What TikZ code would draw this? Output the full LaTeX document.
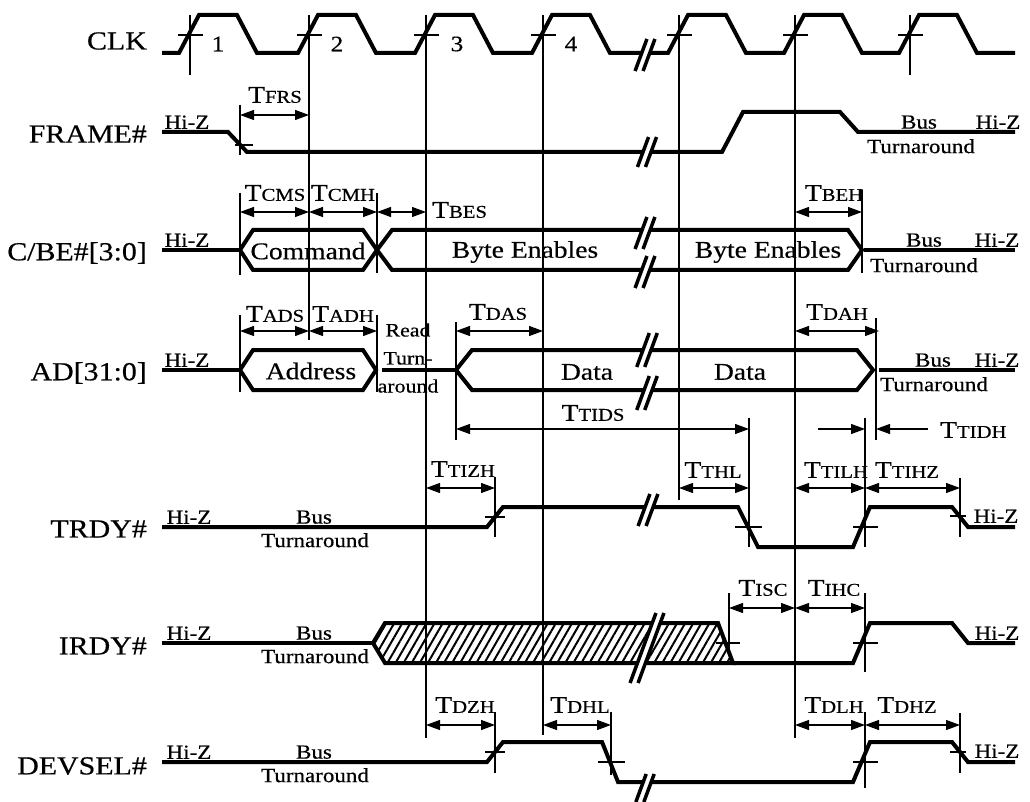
\documentclass[tikz,border=0pt]{standalone}
\usepackage{fontspec}
\setmainfont[FakeStretch=1.15,FakeBold=0.5]{Liberation Serif}
\usetikzlibrary{arrows.meta,patterns.meta}
\newcommand{\namefont}{\fontsize{26}{28}\selectfont}
\newcommand{\valfont}{\fontsize{24}{26}\selectfont}
\newcommand{\notefont}{\fontsize{20}{22}\selectfont}
\newcommand{\tm}[1]{{\fontsize{24}{26}\selectfont T}{\fontsize{18}{20}\selectfont #1}}
\newcommand{\brk}[3]{%
  \fill[white] ({#1-4-0.37*#3},{#2+#3}) -- ({#1-4+0.37*#3},{#2-#3}) -- ({#1+4+0.37*#3},{#2-#3}) -- ({#1+4-0.37*#3},{#2+#3}) -- cycle;
  \draw[brkln] ({#1-4-0.37*#3},{#2+#3}) -- ({#1-4+0.37*#3},{#2-#3});
  \draw[brkln] ({#1+4-0.37*#3},{#2+#3}) -- ({#1+4+0.37*#3},{#2-#3});}

\begin{document}
\begin{tikzpicture}[x=1pt,y=-1pt,
  sig/.style={line width=4pt,line join=miter},
  guide/.style={line width=1.1pt},
  dim/.style={line width=1.1pt,{Triangle[length=14pt,width=10pt]}-{Triangle[length=14pt,width=10pt]}},
  dimr/.style={line width=1.1pt,-{Triangle[length=14pt,width=10pt]}},
  brkln/.style={line width=3.5pt},
  signame/.style={anchor=east,inner sep=0pt,font=\namefont},
  note/.style={inner sep=0pt,font=\notefont},
  val/.style={inner sep=0pt,font=\valfont},
  tlbl/.style={inner sep=0pt}]
  \useasboundingbox (0,0) rectangle (1030,802);

  % clock edges and the lines that drop from them
  \foreach \c in {190,910} \draw[guide] (\c,15) -- (\c,75);
  \draw[guide] (309,15) -- (309,340);
  \draw[guide] (426,15) -- (426,738);
  \draw[guide] (543,15) -- (543,735);
  \draw[guide] (679,15) -- (679,500);
  \draw[guide] (795,15) -- (795,738);
  \foreach \c in {190,309,426,543,679,795,910} \draw[guide] ({\c-12},35) -- ({\c+13},35);

  % extension lines
  \draw[guide] (240,105) -- (240,155);
  \draw[guide] (240,193) -- (240,275);
  \draw[guide] (240,315) -- (240,392);
  \draw[guide] (377,193) -- (377,273);
  \draw[guide] (377,315) -- (377,392);
  \draw[guide] (456,322) -- (456,440);
  \draw[guide] (862,190) -- (862,273);
  \draw[guide] (876,318) -- (876,440);
  \draw[guide] (749,418) -- (749,547);
  \draw[guide] (865,418) -- (865,547);
  \draw[guide] (865,593) -- (865,672);
  \draw[guide] (865,712) -- (865,788);
  \draw[guide] (495,477) -- (495,537);
  \draw[guide] (495,712) -- (495,773);
  \draw[guide] (611,712) -- (611,775);
  \draw[guide] (960,478) -- (960,537);
  \draw[guide] (960,713) -- (960,773);
  \draw[guide] (729,593) -- (729,650);
  \draw[guide] (235,145) -- (253,145);
  \draw[guide] (485,517) -- (505,517);
  \draw[guide] (735,527) -- (762,527);
  \draw[guide] (853,527) -- (878,527);
  \draw[guide] (950,516) -- (966,516);
  \draw[guide] (716,643) -- (740,643);
  \draw[guide] (853,643) -- (878,643);
  \draw[guide] (485,752) -- (505,752);
  \draw[guide] (598,762) -- (625,762);
  \draw[guide] (853,762) -- (878,762);
  \draw[guide] (950,752) -- (966,752);

  % waveforms
  \draw[sig] (162,53) \foreach \c in {190,309,426,543,679,795,910} { -- ({\c-11},53) -- ({\c+9},15) -- ({\c+47},15) -- ({\c+67},53) } -- (1015,53);
  \draw[sig] (162,132) -- (228,132) -- (247,152) -- (722,152) -- (743,112) -- (840,112) -- (858,132) -- (1015,132);
  \draw[sig] (162,250) -- (240,250);
  \draw[sig] (240,250) -- (253,230) -- (363,230) -- (377,250) -- (363,270) -- (253,270) -- cycle;
  \draw[sig] (377,250) -- (392,230) -- (848,230) -- (862,250) -- (848,270) -- (392,270) -- cycle;
  \draw[sig] (864,250) -- (1015,250);
  \draw[sig] (162,370) -- (240,370);
  \draw[sig] (240,370) -- (253,350) -- (363,350) -- (376,370) -- (363,390) -- (253,390) -- cycle;
  \draw[sig] (382,370) -- (456,370);
  \draw[sig] (456,370) -- (472,350) -- (857,350) -- (873,370) -- (857,390) -- (472,390) -- cycle;
  \draw[sig] (879,370) -- (1015,370);
  \draw[sig] (162,527) -- (487,527) -- (503,507) -- (738,507) -- (758,547) -- (853,547) -- (870,507) -- (952,507) -- (968,527) -- (1015,527);
  \draw[sig] (162,643) -- (373,643);
  \fill[pattern={Lines[angle=60,distance=7pt,line width=2pt]}] (373,643) -- (385,623) -- (718,623) -- (733,663) -- (385,663) -- cycle;
  \draw[sig] (373,643) -- (385,623) -- (718,623) -- (733,663) -- (385,663) -- cycle;
  \draw[sig] (733,663) -- (853,663) -- (870,623) -- (952,623) -- (968,643) -- (1015,643);
  \draw[sig] (162,762) -- (487,762) -- (503,742) -- (602,742) -- (618,782) -- (853,782) -- (870,742) -- (952,742) -- (968,762) -- (1015,762);

  % breaks in time
  \brk{645}{55}{16}
  \brk{647}{152}{15}
  \brk{645}{233}{16}
  \brk{645}{272}{16}
  \brk{647}{350}{17}
  \brk{647}{393}{17}
  \brk{648}{510}{16}
  \brk{647}{648}{35}
  \brk{645}{788}{14}

  % timing arrows
  \draw[dim] (240,115) -- (309,115);
  \draw[dim] (240,212) -- (309,212);
  \draw[dim] (309,212) -- (377,212);
  \draw[dim] (377,212) -- (426,212);
  \draw[dim] (795,212) -- (862,212);
  \draw[dim] (240,331) -- (309,331);
  \draw[dim] (309,331) -- (377,331);
  \draw[dim] (456,331) -- (543,331);
  \draw[dim] (795,331) -- (879,331);
  \draw[dim] (456,429) -- (749,429);
  \draw[dimr] (818,429) -- (865,429);
  \draw[dimr] (928,429) -- (876,429);
  \draw[dim] (426,488) -- (495,488);
  \draw[dim] (679,488) -- (749,488);
  \draw[dim] (795,488) -- (865,488);
  \draw[dim] (865,488) -- (960,488);
  \draw[dim] (729,608) -- (795,608);
  \draw[dim] (795,608) -- (865,608);
  \draw[dim] (426,725) -- (495,725);
  \draw[dim] (543,725) -- (611,725);
  \draw[dim] (795,725) -- (865,725);
  \draw[dim] (865,725) -- (960,725);

  \node[tlbl] (tfrs) at (275,95) {\tm{FRS}};
  \node[tlbl] (tcms) at (275,193) {\tm{CMS}};
  \node[tlbl] (tcmh) at (343,193) {\tm{CMH}};
  \node[tlbl,anchor=west] (tbes) at (432,210) {\tm{BES}};
  \node[tlbl] (tbeh) at (834,193) {\tm{BEH}};
  \node[tlbl] (tads) at (275,314) {\tm{ADS}};
  \node[tlbl] (tadh) at (343,314) {\tm{ADH}};
  \node[tlbl] (tdas) at (498,312) {\tm{DAS}};
  \node[tlbl] (tdah) at (837,312) {\tm{DAH}};
  \node[tlbl] (ttids) at (593,413) {\tm{TIDS}};
  \node[tlbl,anchor=west] (ttidh) at (940,430) {\tm{TIDH}};
  \node[tlbl] (ttizh) at (463,469) {\tm{TIZH}};
  \node[tlbl] (tthl) at (713,470) {\tm{THL}};
  \node[tlbl] (ttilh) at (836,470) {\tm{TILH}};
  \node[tlbl] (ttihz) at (907,470) {\tm{TIHZ}};
  \node[tlbl] (tisc) at (763,588) {\tm{ISC}};
  \node[tlbl] (tihc) at (834,588) {\tm{IHC}};
  \node[tlbl] (tdzh) at (465,705) {\tm{DZH}};
  \node[tlbl] (tdhl) at (580,705) {\tm{DHL}};
  \node[tlbl] (tdlh) at (834,705) {\tm{DLH}};
  \node[tlbl] (tdhz) at (907,705) {\tm{DHZ}};

  % signal names
  \node[signame] (clk) at (147,41) {CLK};
  \node[signame] (frame) at (147,134) {FRAME\#};
  \node[signame] (cbe) at (147,253) {C/BE\#[3:0]};
  \node[signame] (ad) at (147,373) {AD[31:0]};
  \node[signame] (trdy) at (147,529) {TRDY\#};
  \node[signame] (irdy) at (147,646) {IRDY\#};
  \node[signame] (devsel) at (147,766) {DEVSEL\#};

  \node[tlbl,font=\fontsize{22}{24}\selectfont] (clk1) at (218,44) {1};
  \node[tlbl,font=\fontsize{22}{24}\selectfont] (clk2) at (337,44) {2};
  \node[tlbl,font=\fontsize{22}{24}\selectfont] (clk3) at (457,44) {3};
  \node[tlbl,font=\fontsize{22}{24}\selectfont] (clk4) at (571,44) {4};

  % bus values
  \node[val] (cmd) at (308,251) {Command};
  \node[val] (be1) at (525,252) {Byte Enables};
  \node[val] (be2) at (768,252) {Byte Enables};
  \node[val] (addr) at (311,371) {Address};
  \node[val] (data1) at (587,372) {Data};
  \node[val] (data2) at (740,372) {Data};
  \node[note,align=center,font=\fontsize{19}{28}\selectfont] (rdta) at (408,358) {Read\\Turn-\\around};

  % bus states
  \node[note,anchor=south] (hz1) at (187,129) {Hi-Z};
  \node[note,anchor=south] (hz2) at (187,247) {Hi-Z};
  \node[note,anchor=south] (hz3) at (187,367) {Hi-Z};
  \node[note,anchor=south] (hz4) at (189,524) {Hi-Z};
  \node[note,anchor=south] (hz5) at (189,640) {Hi-Z};
  \node[note,anchor=south] (hz6) at (189,759) {Hi-Z};
  \node[note,anchor=south] (bus4) at (314,524) {Bus};
  \node[note,anchor=north] (ta4) at (315,533) {Turnaround};
  \node[note,anchor=south] (bus5) at (314,640) {Bus};
  \node[note,anchor=north] (ta5) at (315,649) {Turnaround};
  \node[note,anchor=south] (bus6) at (314,759) {Bus};
  \node[note,anchor=north] (ta6) at (315,768) {Turnaround};
  \node[note,anchor=south] (bus1) at (919,129) {Bus};
  \node[note,anchor=south] (hz1r) at (998,129) {Hi-Z};
  \node[note,anchor=north] (ta1) at (921,139) {Turnaround};
  \node[note,anchor=south] (bus2) at (924,247) {Bus};
  \node[note,anchor=south] (hz2r) at (997,247) {Hi-Z};
  \node[note,anchor=north] (ta2) at (924,258) {Turnaround};
  \node[note,anchor=south] (bus3) at (933,367) {Bus};
  \node[note,anchor=south] (hz3r) at (997,367) {Hi-Z};
  \node[note,anchor=north] (ta3) at (934,377) {Turnaround};
  \node[note,anchor=south] (hz4r) at (996,523) {Hi-Z};
  \node[note,anchor=south] (hz5r) at (997,640) {Hi-Z};
  \node[note,anchor=south] (hz6r) at (997,758) {Hi-Z};
\end{tikzpicture}
\end{document}
